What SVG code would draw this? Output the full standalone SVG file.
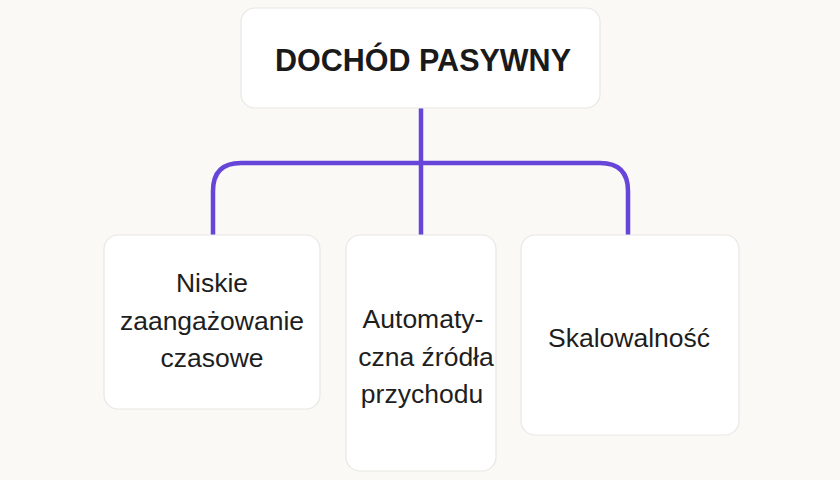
<svg xmlns="http://www.w3.org/2000/svg" width="840" height="480" viewBox="0 0 840 480">
<style>
.box{fill:#FFFFFF;stroke:#E9E7E3;stroke-width:1.2}
.conn{fill:none;stroke:#6645D8;stroke-width:4.5;stroke-linecap:butt}
.t{font-family:"Liberation Sans",Arial,sans-serif;font-size:26.5px;fill:#1E1E1E;text-anchor:middle}
.title{font-family:"Liberation Sans",Arial,sans-serif;font-size:30.5px;font-weight:bold;fill:#1A1A1A;text-anchor:middle}
</style>
<rect width="840" height="480" fill="#FAF9F6"/>
<g id="connectors">
<path class="conn" d="M421 108 V235"/>
<path class="conn" d="M213 235 V191 Q213 163 241 163 H600 Q628 163 628 191 V235"/>
</g>
<g id="root">
<rect class="box" x="241" y="8" width="359" height="100" rx="14"/>
<text class="title" x="423" y="71">DOCHÓD PASYWNY</text>
</g>
<g id="node-niskie">
<rect class="box" x="104" y="235" width="216" height="174" rx="14"/>
<text class="t" x="212" y="292">Niskie</text>
<text class="t" x="212" y="330">zaangażowanie</text>
<text class="t" x="212" y="367">czasowe</text>
</g>
<g id="node-automatyczna">
<rect class="box" x="346" y="235" width="150" height="236" rx="14"/>
<text class="t" x="423" y="328">Automaty-</text>
<text class="t" x="426" y="366">czna źródła</text>
<text class="t" x="422" y="403">przychodu</text>
</g>
<g id="node-skalowalnosc">
<rect class="box" x="521" y="235" width="218" height="200" rx="14"/>
<text class="t" x="629" y="347">Skalowalność</text>
</g>
</svg>
